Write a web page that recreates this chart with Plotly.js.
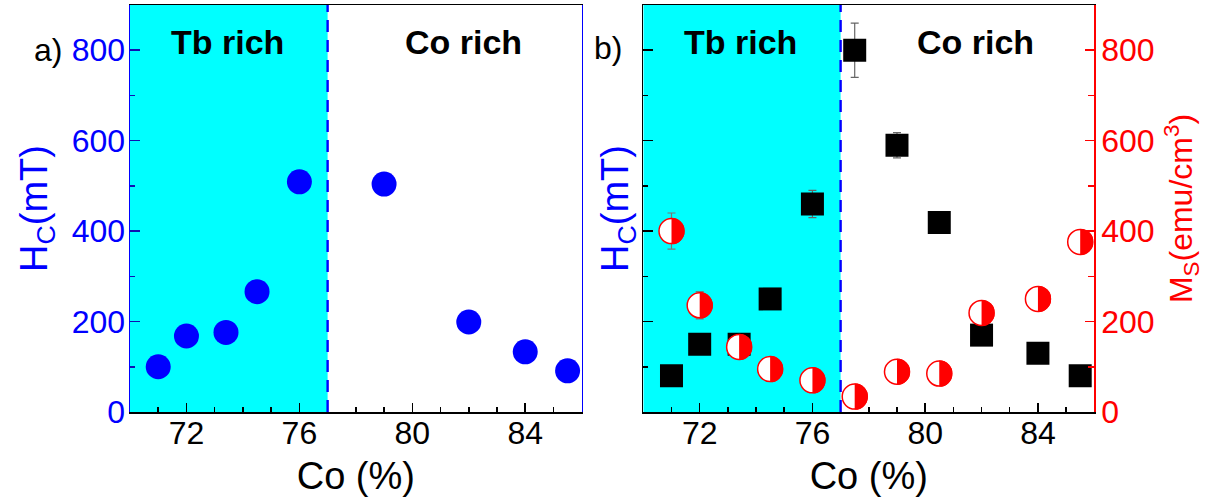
<!DOCTYPE html>
<html>
<head>
<meta charset="utf-8">
<script src="https://cdn.plot.ly/plotly-3.0.1.min.js"></script>
<style>html,body{margin:0;padding:0;background:#fff;}#chart{width:1231px;height:504px;}</style>
</head>
<body>
<div id="chart"></div>
<script>
// ---- data ----
const coA = [71, 72, 73.4, 74.5, 76, 79, 82, 84, 85.5];
const hcA = [100, 168, 176, 266, 509, 504, 199, 133, 91];

const coB = [71, 72, 73.4, 74.5, 76, 77.5, 79, 80.5, 82, 84, 85.5];
const hcB = [80, 150, 150, 250, 460, 800, 590, 419, 170, 130, 80];
const hcBErr = [4, 4, 4, 4, 30, 60, 28, 4, 4, 4, 4];
const msB = [400, 236, 144, 95, 70, 34, 89, 85, 219, 250, 376];
const msBErr = [40, 30, 12, 12, 12, 12, 10, 10, 10, 10, 10];

const xRange = [70, 86];
const yRange = [0, 900];
const tbRegion = [70, 77];          // Tb-rich region
const regionLabels = ['Tb rich', 'Co rich'];
const regionLabelX = [73.45, 81.8];
const panelLabels = ['a)', 'b)'];
const xTitle = 'Co (%)';
const hcTitle = 'H<sub>C</sub>(mT)';
const msTitle = 'M<sub>S</sub>(emu/cm<sup>3</sup>)';

// ---- layout geometry ----
const W = 1231, H = 504;
const domA = [130 / W, 581.7 / W];
const domB = [643.3 / W, 1094.3 / W];
const domY = [1 - 412 / H, 1 - 5 / H];
const FONT = 'Arial, "Liberation Sans", sans-serif';
const BLUE = '#0000ff', RED = '#ff0000', CYAN = '#00ffff';
const TICKSIZE = 32;

// half-filled circle overlay size (data units from pixel size)
const markerPx = 26.5;
const pxPerX = (domB[1] - domB[0]) * W / (xRange[1] - xRange[0]);
const pxPerY = (domY[1] - domY[0]) * H / (yRange[1] - yRange[0]);
const halfSvg = "<svg xmlns='http://www.w3.org/2000/svg' width='100' height='100' viewBox='0 0 100 100'><path d='M50 0 A50 50 0 0 1 50 100 Z' fill='#ff0000'/></svg>";
const halfSrc = 'data:image/svg+xml;charset=utf-8,' + encodeURIComponent(halfSvg);

const traces = [
  {
    x: coA, y: hcA, xaxis: 'x', yaxis: 'y', type: 'scatter', mode: 'markers',
    marker: {symbol: 'circle', size: 25, color: BLUE, line: {width: 0}},
    showlegend: false
  },
  {
    x: coB, y: hcB, xaxis: 'x2', yaxis: 'y2', type: 'scatter', mode: 'markers',
    marker: {symbol: 'square', size: 23, color: '#000000', line: {width: 0}},
    error_y: {type: 'data', array: hcBErr, color: '#666666', thickness: 1.2, width: 4},
    showlegend: false
  },
  {
    x: coB, y: msB, xaxis: 'x2', yaxis: 'y3', type: 'scatter', mode: 'markers',
    marker: {symbol: 'circle', size: 25, color: '#ffffff', line: {width: 1.5, color: RED}},
    error_y: {type: 'data', array: msBErr, color: '#777777', thickness: 1.2, width: 4},
    showlegend: false
  }
];

function xAxis(domain, anchor) {
  return {
    domain: domain, anchor: anchor, range: xRange, autorange: false,
    showgrid: false, zeroline: false,
    showline: true, linecolor: '#000', linewidth: 1.5, mirror: true,
    ticks: 'inside', ticklen: 9, tickwidth: 1.5, tickcolor: '#000',
    tick0: 72, dtick: 4,
    minor: {ticks: 'inside', ticklen: 5, tickwidth: 1.5, tickcolor: '#000', dtick: 1, tick0: 70, showgrid: false},
    tickfont: {family: FONT, size: TICKSIZE, color: '#000'},
    ticklabelstandoff: -8,
    title: {text: xTitle, font: {family: FONT, size: 38, color: '#000'}, standoff: 12},
    automargin: false
  };
}

const layout = {
  width: W, height: H,
  margin: {l: 0, r: 0, t: 0, b: 0},
  paper_bgcolor: '#fff', plot_bgcolor: '#fff',
  showlegend: false,
  font: {family: FONT},
  xaxis: xAxis(domA, 'y'),
  xaxis2: xAxis(domB, 'y2'),
  yaxis: {
    domain: domY, anchor: 'x', range: yRange, autorange: false,
    showgrid: false, zeroline: false,
    showline: true, linecolor: BLUE, linewidth: 1.5, mirror: true,
    ticks: 'inside', ticklen: 10, tickwidth: 1.5, tickcolor: '#1010b0',
    dtick: 200, tick0: 0,
    minor: {ticks: 'inside', ticklen: 5, tickwidth: 1.5, tickcolor: '#1010b0', dtick: 100, showgrid: false},
    tickfont: {family: FONT, size: TICKSIZE, color: BLUE},
    ticklabelstandoff: -3,
    title: {text: hcTitle, font: {family: FONT, size: 38, color: BLUE}, standoff: 12},
    automargin: false
  },
  yaxis2: {
    domain: domY, anchor: 'x2', range: yRange, autorange: false,
    showgrid: false, zeroline: false,
    showline: true, linecolor: '#000', linewidth: 1.5,
    ticks: 'inside', ticklen: 10, tickwidth: 1.5, tickcolor: '#000',
    dtick: 200, tick0: 0,
    minor: {ticks: 'inside', ticklen: 5, tickwidth: 1.5, tickcolor: '#000', dtick: 100, showgrid: false},
    showticklabels: false,
    title: {text: hcTitle, font: {family: FONT, size: 38, color: BLUE}, standoff: 1},
    automargin: false
  },
  yaxis3: {
    overlaying: 'y2', anchor: 'x2', side: 'right', range: yRange, autorange: false,
    showgrid: false, zeroline: false,
    showline: true, linecolor: RED, linewidth: 1.5,
    ticks: 'inside', ticklen: 9, tickwidth: 1.5, tickcolor: RED,
    dtick: 200, tick0: 0,
    minor: {ticks: 'inside', ticklen: 6, tickwidth: 1.5, tickcolor: RED, dtick: 100, showgrid: false},
    tickfont: {family: FONT, size: TICKSIZE, color: RED},
    ticklabelstandoff: -1,
    title: {text: msTitle, font: {family: FONT, size: 32, color: RED}, standoff: 16},
    automargin: false
  },
  shapes: [
    {type: 'rect', xref: 'x', yref: 'y domain', x0: tbRegion[0], x1: tbRegion[1], y0: 0, y1: 1,
     fillcolor: CYAN, line: {width: 0}, layer: 'below'},
    {type: 'rect', xref: 'x2', yref: 'y2 domain', x0: tbRegion[0], x1: tbRegion[1], y0: 0, y1: 1,
     fillcolor: CYAN, line: {width: 0}, layer: 'below'},
    {type: 'line', xref: 'x', yref: 'y domain', x0: tbRegion[1], x1: tbRegion[1], y0: 0, y1: 1,
     line: {color: BLUE, width: 2.4, dash: '12px,8px'}},
    {type: 'line', xref: 'x2', yref: 'y2 domain', x0: tbRegion[1], x1: tbRegion[1], y0: 0, y1: 1,
     line: {color: BLUE, width: 2.4, dash: '12px,8px'}}
  ],
  annotations: [
    {xref: 'x', yref: 'paper', x: regionLabelX[0], y: 1 - 42 / H, text: '<b>' + regionLabels[0] + '</b>',
     showarrow: false, xanchor: 'center', yanchor: 'middle', font: {family: FONT, size: 34, color: '#000'}},
    {xref: 'x', yref: 'paper', x: regionLabelX[1], y: 1 - 42 / H, text: '<b>' + regionLabels[1] + '</b>',
     showarrow: false, xanchor: 'center', yanchor: 'middle', font: {family: FONT, size: 34, color: '#000'}},
    {xref: 'x2', yref: 'paper', x: regionLabelX[0], y: 1 - 42 / H, text: '<b>' + regionLabels[0] + '</b>',
     showarrow: false, xanchor: 'center', yanchor: 'middle', font: {family: FONT, size: 34, color: '#000'}},
    {xref: 'x2', yref: 'paper', x: regionLabelX[1], y: 1 - 42 / H, text: '<b>' + regionLabels[1] + '</b>',
     showarrow: false, xanchor: 'center', yanchor: 'middle', font: {family: FONT, size: 34, color: '#000'}},
    {xref: 'paper', yref: 'paper', x: 64 / W, y: 1 - 50 / H, text: panelLabels[0],
     showarrow: false, xanchor: 'right', yanchor: 'middle', font: {family: FONT, size: 32, color: '#000'}},
    {xref: 'paper', yref: 'paper', x: 624 / W, y: 1 - 48 / H, text: panelLabels[1],
     showarrow: false, xanchor: 'right', yanchor: 'middle', font: {family: FONT, size: 32, color: '#000'}}
  ],
  images: coB.map((x, i) => ({
    source: halfSrc, xref: 'x2', yref: 'y3', x: x, y: msB[i],
    sizex: markerPx / pxPerX, sizey: markerPx / pxPerY,
    xanchor: 'center', yanchor: 'middle', sizing: 'stretch', layer: 'above'
  }))
};

Plotly.newPlot('chart', traces, layout, {staticPlot: true, displayModeBar: false});
</script>
</body>
</html>
